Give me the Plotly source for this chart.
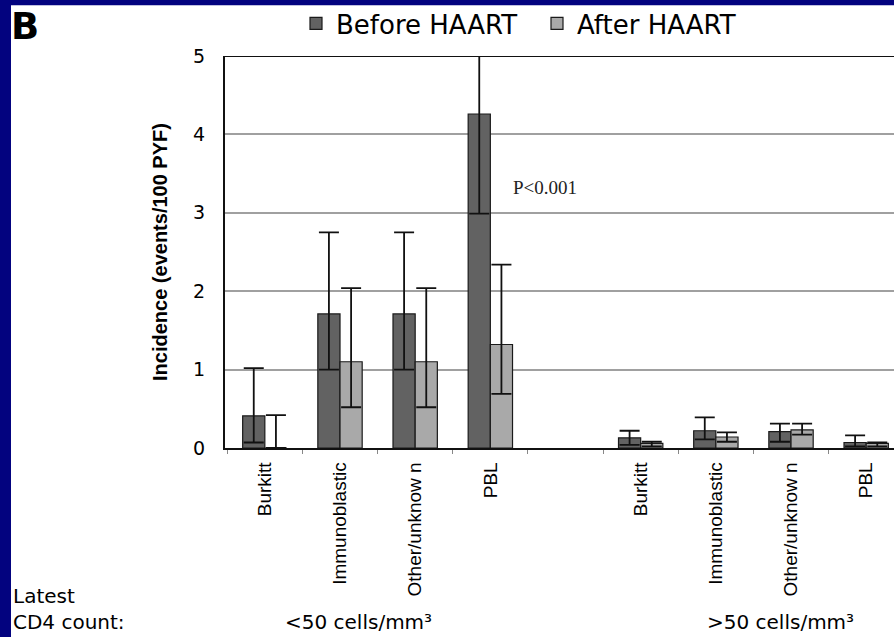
import plotly.graph_objects as go

# ---- data ----
categories = ["Burkitt", "Immunoblastic", "Other/unknow n", "PBL", "",
              "Burkitt", "Immunoblastic", "Other/unknow n", "PBL"]
before = [0.41, 1.71, 1.71, 4.26, None, 0.13, 0.22, 0.21, 0.07]
before_hi = [1.02, 2.75, 2.75, 5.05, None, 0.22, 0.39, 0.31, 0.16]
before_lo = [0.07, 1.00, 1.00, 2.99, None, 0.04, 0.11, 0.08, 0.02]
after = [0.0, 1.10, 1.10, 1.32, None, 0.06, 0.14, 0.23, 0.06]
after_hi = [0.42, 2.04, 2.04, 2.34, None, 0.08, 0.20, 0.31, 0.07]
after_lo = [0.0, 0.52, 0.52, 0.69, None, 0.02, 0.08, 0.17, 0.02]
y_ticks = [0, 1, 2, 3, 4, 5]
group_labels = ["<50 cells/mm³", ">50 cells/mm³"]

xpos = list(range(len(categories)))


def err(vals, hi, lo):
    up = [None if v is None else h - v for v, h in zip(vals, hi)]
    dn = [None if v is None else v - l for v, l in zip(vals, lo)]
    return up, dn


b_up, b_dn = err(before, before_hi, before_lo)
a_up, a_dn = err(after, after_hi, after_lo)

W, H = 894, 637
L, R, T, B = 225, 0, 55, 189
pw, ph = W - L - R, H - T - B


def px(X):
    return (X - L) / pw


def py(Y):
    return (H - B - Y) / ph


fig = go.Figure()
fig.add_trace(go.Bar(
    x=xpos, y=before, name="Before HAART",
    marker=dict(color="#626262", line=dict(color="#1a1a1a", width=1.2)),
    error_y=dict(type="data", symmetric=False, array=b_up, arrayminus=b_dn,
                 color="#111111", thickness=1.8, width=10),
))
fig.add_trace(go.Bar(
    x=xpos, y=after, name="After HAART",
    marker=dict(color="#a9a9a9", line=dict(color="#1a1a1a", width=1.2)),
    error_y=dict(type="data", symmetric=False, array=a_up, arrayminus=a_dn,
                 color="#111111", thickness=1.8, width=10),
))

shapes = [
    # white page area inside the navy border
    dict(type="rect", xref="paper", yref="paper", x0=px(11), x1=px(W + 5),
         y0=py(4), y1=py(H + 5), fillcolor="white", line=dict(width=0),
         layer="below"),
    # top frame line at y=5
    dict(type="line", xref="paper", yref="y", x0=0, x1=1, y0=5, y1=5,
         line=dict(color="#111111", width=2)),
]

sans = "DejaVu Sans"
annotations = [
    dict(text="<b>B</b>", xref="paper", yref="paper", x=px(9), y=py(25),
         xanchor="left", yanchor="middle", showarrow=False,
         font=dict(family=sans, size=37, color="black")),
    dict(text="P<0.001", xref="paper", yref="paper", x=px(511), y=py(187),
         xanchor="left", yanchor="middle", showarrow=False,
         font=dict(family="Liberation Serif", size=19, color="#222222")),
    dict(text="Latest<br>CD4 count:", xref="paper", yref="paper", x=px(11),
         y=py(636), xanchor="left", yanchor="bottom", align="left",
         showarrow=False,
         font=dict(family=sans, size=20, color="black")),
    dict(text=group_labels[0], xref="paper", yref="paper", x=px(358), y=py(636),
         xanchor="center", yanchor="bottom", showarrow=False,
         font=dict(family=sans, size=20, color="black")),
    dict(text=group_labels[1], xref="paper", yref="paper", x=px(780), y=py(636),
         xanchor="center", yanchor="bottom", showarrow=False,
         font=dict(family=sans, size=20, color="black")),
]

fig.update_layout(
    width=W, height=H,
    margin=dict(l=L, r=R, t=T, b=B, pad=0),
    paper_bgcolor="#03037f",
    plot_bgcolor="rgba(0,0,0,0)",
    barmode="group", bargap=0.41, bargroupgap=0.0,
    showlegend=True,
    legend=dict(orientation="h", x=px(296), y=py(22), xanchor="left",
                yanchor="middle", bgcolor="rgba(0,0,0,0)",
                font=dict(family=sans, size=26, color="black"),
                itemwidth=30, traceorder="normal",
                entrywidth=196, entrywidthmode="pixels"),
    shapes=shapes,
    annotations=annotations,
    xaxis=dict(
        range=[-0.53, 8.37], tickmode="array", tickvals=xpos,
        ticktext=categories, tickangle=-90, ticks="",
        ticklabelstandoff=5,
        tickfont=dict(family="Liberation Sans", size=19, color="black"),
        showgrid=False, zeroline=False, showline=True,
        linecolor="#111111", linewidth=1.5,
        minor=dict(tickmode="array", tickvals=[i + 0.5 for i in range(-1, 9)],
                   ticks="outside", ticklen=4, tickcolor="#888888",
                   tickwidth=1, showgrid=False),
    ),
    yaxis=dict(
        range=[0, 5], tickmode="array", tickvals=y_ticks,
        ticks="", ticklabelstandoff=14,
        tickfont=dict(family=sans, size=19, color="black"),
        showgrid=True, gridcolor="#a0a0a0", gridwidth=1.5,
        zeroline=False, showline=True, linecolor="#111111", linewidth=2,
        title=dict(text="<b>Incidence (events/100 PYF)</b>", standoff=20,
                   font=dict(family="Liberation Sans", size=20, color="black")),
    ),
)

fig.write_html("out.html",
               config={"displayModeBar": False},
               post_script="document.body.style.margin='0';"
                           "document.body.style.overflow='hidden';")
